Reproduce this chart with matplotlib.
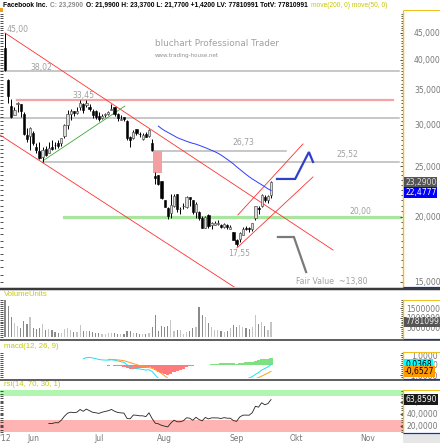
import numpy as np
import pandas as pd
import matplotlib
matplotlib.use('Agg')
import matplotlib.pyplot as plt
from matplotlib import font_manager
from matplotlib.lines import Line2D
from matplotlib.patches import Rectangle
from matplotlib.ticker import FixedLocator, NullFormatter, FixedFormatter

W, H = 440, 443

# ---------------- data (Facebook Inc., daily, from 2012-05-18) ----------------
opens = [42.05, 36.53, 32.61, 31.37, 32.95, 32.90, 31.48, 28.70, 28.55, 28.89,
         27.20, 26.70, 26.07, 27.00, 26.55, 27.18, 27.48, 27.66, 27.65, 28.51,
         29.96, 31.54, 31.92, 31.67, 32.41, 32.86, 32.69, 32.46, 31.96, 31.92,
         31.25, 30.90, 31.32, 31.44, 32.10, 32.43, 31.48, 30.70, 31.00, 30.50,
         28.48, 28.31, 29.41, 28.82, 28.21, 28.81, 28.61, 27.75, 23.94, 24.00,
         23.37, 21.50, 20.77, 20.36, 21.01, 22.10, 20.66, 20.94, 20.86, 21.79,
         21.53, 20.44, 20.44, 19.89, 19.06, 20.15, 19.27, 19.30, 19.41, 19.25,
         19.10, 19.28, 18.99, 18.68, 18.08, 18.14, 18.49, 18.99, 19.02, 18.96,
         19.86, 20.81, 21.00, 21.85, 21.50, 21.99]
highs = [45.00, 36.66, 33.59, 32.50, 33.21, 32.95, 31.69, 29.55, 29.67, 29.15,
         27.65, 27.76, 27.17, 27.35, 27.76, 28.07, 27.77, 28.10, 28.32, 30.10,
         32.08, 32.18, 31.93, 32.50, 33.45, 33.02, 33.44, 32.90, 32.19, 31.99,
         31.73, 31.44, 31.63, 31.83, 32.88, 32.48, 31.56, 31.40, 31.10, 30.62,
         28.59, 29.29, 29.50, 29.11, 28.93, 29.12, 29.45, 28.23, 24.40, 24.04,
         23.37, 21.58, 20.84, 22.16, 22.15, 22.13, 20.89, 21.23, 21.95, 21.79,
         21.54, 21.35, 20.48, 20.10, 20.07, 20.25, 19.50, 19.66, 19.71, 19.35,
         19.42, 19.35, 19.26, 18.70, 18.10, 18.68, 19.12, 19.17, 19.09, 19.48,
         20.99, 21.00, 22.12, 22.00, 22.00, 23.37]
lows = [38.00, 33.00, 30.94, 31.36, 31.77, 31.11, 28.65, 27.86, 26.83, 27.39,
        26.44, 25.75, 25.52, 26.15, 26.44, 26.84, 26.96, 27.10, 27.38, 28.35,
        29.41, 30.70, 31.15, 31.51, 32.06, 31.55, 32.50, 31.90, 30.90, 30.76,
        30.55, 30.80, 31.02, 31.35, 31.99, 31.16, 30.55, 30.60, 30.51, 28.00,
        27.15, 28.15, 28.63, 28.45, 28.10, 28.38, 28.46, 26.73, 23.10, 23.03,
        21.61, 20.84, 19.82, 19.90, 20.86, 20.44, 20.21, 20.71, 20.82, 20.99,
        20.24, 19.87, 19.69, 19.05, 19.04, 19.06, 18.96, 19.26, 19.30, 19.03,
        19.05, 18.98, 18.92, 18.03, 17.55, 17.90, 18.45, 18.83, 18.73, 18.80,
        19.71, 20.28, 20.85, 21.36, 21.21, 21.77]
closes = [38.23, 34.03, 31.00, 32.00, 33.03, 31.91, 28.84, 28.19, 29.60, 27.72,
          26.90, 25.87, 26.81, 26.31, 27.10, 27.01, 27.40, 27.27, 28.29, 30.01,
          31.41, 31.91, 31.60, 31.84, 33.05, 32.06, 33.10, 32.23, 31.36, 31.10,
          30.77, 31.20, 31.47, 31.73, 32.17, 31.47, 30.97, 30.81, 30.72, 28.25,
          28.09, 29.11, 29.00, 28.76, 28.75, 28.45, 29.34, 26.85, 23.71, 23.15,
          21.71, 20.88, 20.04, 21.09, 21.92, 20.72, 20.72, 21.01, 21.81, 21.60,
          20.38, 21.20, 19.87, 19.05, 20.01, 19.16, 19.44, 19.44, 19.41, 19.15,
          19.34, 19.10, 19.09, 18.06, 17.73, 18.58, 18.96, 18.98, 18.94, 19.43,
          20.93, 20.71, 22.00, 21.52, 21.87, 23.29]
volumes_m = [573, 159, 102, 72, 55, 47, 81, 67, 102, 47,
             41, 47, 67, 34, 43, 34, 24, 21, 21, 41,
             47, 34, 24, 26, 64, 29, 29, 29, 24, 21,
             21, 16, 16, 21, 21, 21, 16, 16, 16, 29,
             33, 21, 21, 16, 16, 16, 21, 50, 115, 33,
             59, 52, 59, 86, 33, 38, 38, 16, 26, 29,
             47, 50, 153, 112, 103, 72, 50, 38, 38, 29,
             26, 29, 47, 60, 50, 60, 50, 47, 41, 50,
             115, 67, 76, 55, 38, 77.81]

holidays = ['2012-05-28', '2012-07-04', '2012-09-03', '2012-11-22']
month_labels = ["'12", "Jun", "Jul", "Aug", "Sep", "Okt", "Nov"]
month_numbers = [5, 6, 7, 8, 9, 10, 11]

price_ticks = [15, 20, 25, 30, 35, 40, 45]
price_tick_labels = ["15,0000", "20,0000", "25,0000", "30,0000", "35,0000", "40,0000", "45,0000"]
vol_ticks = [50e6, 100e6, 150e6]
vol_tick_labels = ["50000000", "100000000", "150000000"]
macd_ticks = [-1, 0, 1]
macd_tick_labels = ["-1,0000", "0", "1,0000"]
rsi_ticks = [20, 40, 60]
rsi_tick_labels = ["20,0000", "40,0000", "60,0000"]

last_close = 23.29
ma50_value = 22.4777
last_volume = 77810991
macd_value = 0.0368
signal_value = -0.6527
rsi_value = 63.8590

# analyst drawings: (bar index, price)
hline_levels = [38.02, 30.90, 25.52, 26.73]
hline_from = [-1.6, -1.6, 12, 47]
hline_to = [125.9, 125.9, 126.0, 89.8]
resistance_level = 33.45
resistance_span = [3.8, 124.0]
support_level = 20.00
support_span = [18.8, 126.2]
gap_span = [47.3, 50.2]
gap_prices = [24.30, 26.73]
chan_down_upper = [(0, 45.0), (104.8, 17.27)]
chan_down_lower = [(-1.6, 28.69), (85.0, 13.2)]
chan_up_upper = [(74.4, 20.16), (95.2, 27.58)]
chan_up_lower = [(74.1, 17.43), (98.4, 23.84)]
trend_up = [(12.1, 25.60), (38.3, 32.60)]
bull_path_x = [86.9, 92.7, 97.1, 98.4]
bull_path_y = [23.63, 23.63, 26.61, 25.47]
bear_path_x = [87.2, 92.3, 96.2]
bear_path_y = [18.29, 18.29, 15.67]

# ---------------- derived ----------------
dates = pd.bdate_range('2012-05-18', '2012-11-30')
dates = dates[~dates.isin(pd.to_datetime(holidays))]
month_pos = [int(np.argmax(dates.month == m)) for m in month_numbers]

n = len(closes)
idx = np.arange(n)
o = np.array(opens); h = np.array(highs); l = np.array(lows); c = np.array(closes)
vol = np.array(volumes_m) * 1e6
cs = pd.Series(c)
sma50 = cs.rolling(50).mean()
ema12 = cs.ewm(span=12, adjust=True).mean()
ema26 = cs.ewm(span=26, adjust=True).mean()
macd = ema12 - ema26
signal = pd.Series(np.nan, index=cs.index)
signal[25:] = macd[25:].ewm(span=9, adjust=True).mean()
hist = macd - signal
macd_show = macd.copy(); macd_show[:25] = np.nan
sig_show = signal.copy(); sig_show[:33] = np.nan
hist_show = hist.copy(); hist_show[:33] = np.nan

delta = np.diff(c)
gain = np.clip(delta, 0, None); loss = np.clip(-delta, 0, None)
rsi = np.full(n, np.nan)
ag = gain[:14].mean(); al = loss[:14].mean()
rsi[14] = 100 - 100 / (1 + ag / al)
for i in range(15, n):
    ag = (ag * 13 + gain[i - 1]) / 14
    al = (al * 13 + loss[i - 1]) / 14
    rsi[i] = 100 - 100 / (1 + ag / al)

# ---------------- fonts ----------------
def has_font(name):
    try:
        font_manager.findfont(font_manager.FontProperties(family=name), fallback_to_default=False)
        return True
    except Exception:
        return False

narrow = 'Liberation Sans Narrow' if has_font('Liberation Sans Narrow') else 'Liberation Sans'
plt.rcParams['font.family'] = ['DejaVu Sans']

# ---------------- figure ----------------
fig = plt.figure(figsize=(W / 100, H / 100), dpi=100)
fig.patch.set_facecolor('white')

def px_rect(x0, y0, x1, y1):
    return [x0 / W, 1 - y1 / H, (x1 - x0) / W, (y1 - y0) / H]

def fig_line(x0, y0, x1, y1, color, lw_px):
    fig.add_artist(Line2D([x0 / W, x1 / W], [1 - y0 / H, 1 - y1 / H], transform=fig.transFigure,
                          color=color, lw=lw_px * 0.72, solid_capstyle='butt'))

XL = (-5 / 3.13, (403 - 5) / 3.13)
YEL = '#f0c020'
LBL = '#777777'
TTL = '#c8c800'

ax = fig.add_axes(px_rect(0, 12, 403, 287))
axv = fig.add_axes(px_rect(0, 300, 403, 339))
axm = fig.add_axes(px_rect(0, 352, 403, 378))
axr = fig.add_axes(px_rect(0, 390, 403, 432))

for a in (ax, axv, axm, axr):
    a.set_facecolor('white')
    for s in ('top', 'bottom', 'left'):
        a.spines[s].set_visible(False)
    a.spines['right'].set_color(YEL)
    a.spines['right'].set_linewidth(1.0)
    a.set_xlim(*XL)
    a.yaxis.tick_right()
    a.tick_params(axis='y', which='both', left=True, right=True, labelleft=False, labelright=True,
                  direction='in', length=2.5, width=0.6, color='#333333', labelsize=5.5, labelcolor=LBL)
    a.tick_params(axis='y', which='minor', length=1.8)
    a.tick_params(axis='x', which='both', bottom=False, top=False, labelbottom=False)

# ---- main price panel ----
ax.set_yscale('log')
ax.set_ylim(14.67, 49.36)
ax.yaxis.set_major_locator(FixedLocator(price_ticks))
ax.yaxis.set_major_formatter(FixedFormatter(price_tick_labels))
ax.yaxis.set_minor_locator(FixedLocator(np.arange(14.5, 49.5, 0.5)))
ax.yaxis.set_minor_formatter(NullFormatter())
ax.tick_params(axis='y', which='major', pad=8)

for lev, a0, a1 in zip(hline_levels, hline_from, hline_to):
    ax.plot([a0, a1], [lev, lev], color='#b8b8b8', lw=1.1, zorder=1)
ax.plot(resistance_span, [resistance_level] * 2, color='#f4a4a4', lw=1.6, zorder=1)
ax.plot(support_span, [support_level] * 2, color='#a8e6a0', lw=2.3, zorder=1)
ax.add_patch(Rectangle((gap_span[0], gap_prices[0]), gap_span[1] - gap_span[0],
                       gap_prices[1] - gap_prices[0], fc='#f4a0a0', ec='none', zorder=1))

for seg in (chan_down_upper, chan_down_lower, chan_up_upper, chan_up_lower):
    ax.plot([p[0] for p in seg], [p[1] for p in seg], color='#ff3030', lw=0.6, zorder=2)
ax.plot([p[0] for p in trend_up], [p[1] for p in trend_up], color='#3aa83a', lw=0.6, zorder=2)

up = c >= o
ax.vlines(idx, l, h, color='#000000', lw=0.7, zorder=3)
body_b = np.minimum(o, c)
body_h = np.maximum(np.abs(c - o), 0.06)
ax.bar(idx[~up], body_h[~up], bottom=body_b[~up], width=0.72, color='#000000', edgecolor='#000000',
       lw=0.4, zorder=4)
ax.bar(idx[up], body_h[up], bottom=body_b[up], width=0.72, color='#dcdcdc', edgecolor='#555555',
       lw=0.5, zorder=4)

ax.plot(idx, sma50, color='#2f3cff', lw=0.7, zorder=5)
ax.plot(bull_path_x, bull_path_y, color='#3040c8', lw=1.6, zorder=5, solid_joinstyle='miter')
ax.plot(bear_path_x, bear_path_y, color='#7a7a7a', lw=1.6, zorder=5, solid_joinstyle='miter')

tc = '#a0a0a0'
fs = 5.6
def level_text(x, y, s, dy):
    ax.annotate(s, xy=(x, y), xytext=(0, dy), textcoords='offset points', ha='left', va='center',
                fontsize=fs, color=tc, zorder=6, annotation_clip=False)

level_text(0.6, 45.0, "45,00", 2.2)
level_text(8.0, 38.02, "38,02", 2.9)
level_text(21.7, 33.45, "33,45", 3.4)
level_text(72.5, 26.73, "26,73", 5.8)
level_text(105.8, 25.52, "25,52", 5.0)
level_text(110.0, 20.00, "20,00", 3.6)
level_text(71.2, 17.55, "17,55", -5.0)
ax.text(93.0, 15.0, "Fair Value  ~13,80", fontsize=fs, color=tc, ha='left', va='center', zorder=6)

# value boxes on the price scale
box_kw = dict(xycoords=('axes fraction', 'data'), ha='left', va='center', fontsize=5.5, zorder=10,
              annotation_clip=False)
ax.annotate(f"{last_close:.4f}".replace('.', ','), xy=(1.0, last_close), xytext=(1.5, 0),
            textcoords='offset points', color='#dddddd',
            bbox=dict(boxstyle='square,pad=0.12', fc='#555555', ec='none'), **box_kw)
ax.annotate(f"{ma50_value:.4f}".replace('.', ','), xy=(1.0, ma50_value), xytext=(1.5, -1.5),
            textcoords='offset points', color='white',
            bbox=dict(boxstyle='square,pad=0.12', fc='#0000ff', ec='none'), **box_kw)

# watermark
fig.text(155 / W, 1 - 44 / H, "bluchart Professional Trader", fontsize=6.4, color='#a0a0a0',
         ha='left', va='center', family='DejaVu Sans')
fig.text(155 / W, 1 - 55 / H, "www.trading-house.net", fontsize=4.0, color='#909090',
         ha='left', va='center', family='DejaVu Sans')

# ---- volume ----
vcol = np.where(up, '#c4c4c4', '#8a8a8a')
axv.bar(idx, vol, width=0.38, color=vcol, lw=0)
axv.set_ylim(-10.3e6, 191.4e6)
axv.yaxis.set_major_locator(FixedLocator(vol_ticks))
axv.yaxis.set_major_formatter(FixedFormatter(vol_tick_labels))
axv.yaxis.set_minor_locator(FixedLocator(np.arange(0, 191e6, 10e6)))
axv.yaxis.set_minor_formatter(NullFormatter())
axv.tick_params(axis='y', which='major', pad=2.5)
axv.annotate(str(last_volume), xy=(1.0, last_volume), xytext=(1.5, 0), textcoords='offset points',
             color='#eeeeee', bbox=dict(boxstyle='square,pad=0.12', fc='#555555', ec='none'), **box_kw)

# ---- macd ----
axm.bar(idx, np.where(hist_show > 0, hist_show, 0), width=1.0, color='#7ee07e', lw=0)
axm.bar(idx, np.where(hist_show < 0, hist_show, 0), width=1.0, color='#ff7b7b', lw=0)
axm.plot(idx, macd_show, color='#20e0f0', lw=0.7)
axm.plot(idx, sig_show, color='#ff9a20', lw=0.7)
axm.set_ylim(-1.3, 1.3)
axm.yaxis.set_major_locator(FixedLocator(macd_ticks))
axm.yaxis.set_major_formatter(FixedFormatter(macd_tick_labels))
axm.yaxis.set_minor_locator(FixedLocator(np.arange(-1.2, 1.3, 0.2)))
axm.yaxis.set_minor_formatter(NullFormatter())
axm.tick_params(axis='y', which='major', pad=25)
for t in axm.get_yticklabels():
    t.set_ha('right')
axm.annotate(f"{macd_value:.4f}".replace('.', ','), xy=(1.0, macd_value), xytext=(1.5, 0),
             textcoords='offset points', color='#000000',
             bbox=dict(boxstyle='square,pad=0.12', fc='#00ffff', ec='none'), **box_kw)
axm.annotate(f"{signal_value:.4f}".replace('.', ','), xy=(1.0, signal_value), xytext=(1.5, 0),
             textcoords='offset points', color='#000000',
             bbox=dict(boxstyle='square,pad=0.12', fc='#ff9a00', ec='none'), **box_kw)

# ---- rsi ----
axr.set_ylim(10, 80)
axr.axhspan(70, 80, color='#b2f5b0', lw=0, zorder=0)
axr.axhspan(10, 30, color='#ffb4b4', lw=0, zorder=0)
axr.plot(idx, rsi, color='#222222', lw=0.6, zorder=2)
axr.yaxis.set_major_locator(FixedLocator(rsi_ticks))
axr.yaxis.set_major_formatter(FixedFormatter(rsi_tick_labels))
axr.yaxis.set_minor_locator(FixedLocator(np.arange(10, 81, 4)))
axr.yaxis.set_minor_formatter(NullFormatter())
axr.tick_params(axis='y', which='major', pad=2.5)
axr.annotate(f"{rsi_value:.4f}".replace('.', ','), xy=(1.0, rsi_value), xytext=(1.5, 0),
             textcoords='offset points', color='white',
             bbox=dict(boxstyle='square,pad=0.12', fc='#1a1a1a', ec='none'), **box_kw)
axr.set_xticks(month_pos)
axr.set_xticklabels(month_labels)
axr.tick_params(axis='x', bottom=True, labelbottom=True, length=0, pad=1.5, labelsize=5.5,
                labelcolor=LBL)

# ---- panel titles ----
for y, s in ((295, "VolumeUnits"), (346.5, "macd(12, 26, 9)"), (384.5, "rsi(14, 70, 30, 1)")):
    fig.text(4 / W, 1 - y / H, s, fontsize=5.6, color=TTL, ha='left', va='center', family=narrow)

# ---- separators and scale boxes ----
fig_line(0, 288.5, 440, 288.5, '#3a3a3a', 2.5)
fig_line(0, 340.3, 440, 340.3, '#3a3a3a', 1.6)
fig_line(0, 379.8, 440, 379.8, '#3a3a3a', 1.6)
for top, bot in ((10, 287.0), (300, 339.0), (352, 378.6), (390, 433.0)):
    fig_line(403, top, 440, top, YEL, 1.0)
    fig_line(403, top, 403, bot, YEL, 1.0)
    fig_line(403, bot, 440, bot, '#1030c0', 1.2)
fig.add_artist(Rectangle((403 / W, 0), 37 / W, 9 / H, transform=fig.transFigure,
                         fc='#e6e6e6', ec='none'))
fig.add_artist(Rectangle((0, 1 - 12 / H), 3 / W, 4 / H, transform=fig.transFigure,
                         fc='#f0a020', ec='none'))

# ---- header line ----
pieces = [("Facebook Inc.", '#000000', 'bold'),
          ("C: 23,2900", '#8a8a8a', 'bold'),
          ("O: 21,9900 H: 23,3700 L: 21,7700 +1,4200 LV: 77810991 TotV: 77810991", '#000000', 'bold'),
          ("move(200, 0) move(50, 0)", TTL, 'normal')]
renderer = fig.canvas.get_renderer()
probe = 10.0
widths = []
for s, col, wt in pieces:
    t = fig.text(0, 0, s, fontsize=probe, fontweight=wt, family=narrow)
    widths.append(t.get_window_extent(renderer).width)
    t.remove()
gap_px = 3.0
target = 385.0 - gap_px * (len(pieces) - 1)
hs = probe * target / sum(widths)
x = 3.0
for s, col, wt in pieces:
    t = fig.text(x / W, 1 - 5.5 / H, s, fontsize=hs, fontweight=wt, family=narrow, color=col,
                 ha='left', va='center')
    x += t.get_window_extent(renderer).width + gap_px

fig.savefig('out.png', dpi=100, facecolor='white')
